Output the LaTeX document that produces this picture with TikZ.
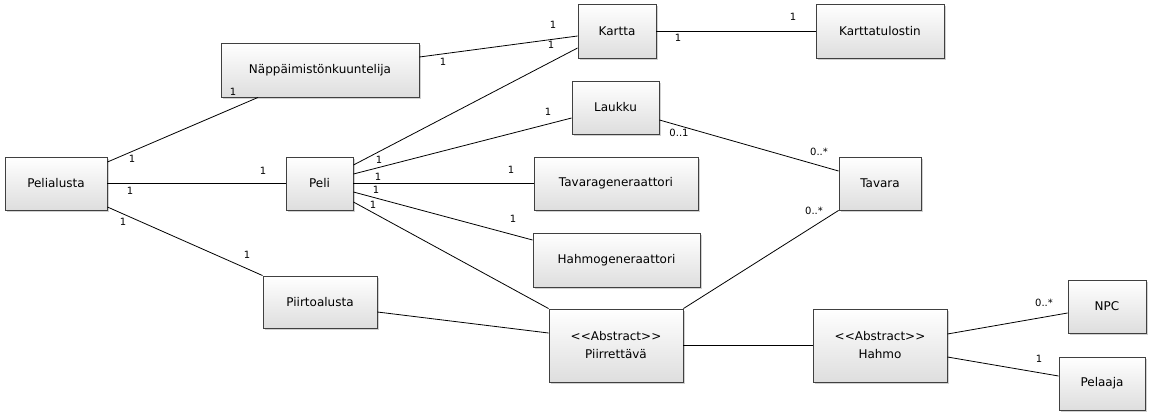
\documentclass[tikz,border=0pt]{standalone}
\usepackage{fontspec}
\setmainfont{DejaVu Sans}
\usetikzlibrary{calc,shadows}
\begin{document}
\begin{tikzpicture}[x=1pt,y=-1pt,
  cls/.style={draw=black!75, line width=0.9pt, rectangle, top color=white, bottom color=black!13,
    drop shadow={shadow xshift=1.5pt, shadow yshift=-1.5pt, fill=black, opacity=0.18},
    font=\fontsize{12}{18}\selectfont, align=center, inner sep=0pt},
  assoc/.style={draw=black, line width=0.8pt},
  mult/.style={font=\fontsize{10}{12}\selectfont, inner sep=0pt}]
\useasboundingbox (0,0) rectangle (1150,415);
\fill[white] (0,0) rectangle (1150,415);

\node[cls, minimum width=102, minimum height=53] (pelialusta) at (56,183.5) {Pelialusta};
\node[cls, minimum width=198, minimum height=54] (napp) at (320,70) {Näppäimistönkuuntelija};
\node[cls, minimum width=78, minimum height=54] (kartta) at (617,31) {Kartta};
\node[cls, minimum width=128, minimum height=54] (tulostin) at (880,31) {Karttatulostin};
\node[cls, minimum width=87, minimum height=53] (laukku) at (615.5,107.5) {Laukku};
\node[cls, minimum width=67, minimum height=53] (peli) at (319.5,183.5) {Peli};
\node[cls, minimum width=164, minimum height=53] (tavarag) at (616,183.5) {Tavarageneraattori};
\node[cls, minimum width=167, minimum height=54] (hahmog) at (616.5,260) {Hahmogeneraattori};
\node[cls, minimum width=82, minimum height=53] (tavara) at (880,183.5) {Tavara};
\node[cls, minimum width=114, minimum height=52] (piirtoalusta) at (320,302) {Piirtoalusta};
\node[cls, minimum width=134, minimum height=73] (piirrettava) at (616,345.5) {<\kern0pt<Abstract>\kern0pt>\\Piirrettävä};
\node[cls, minimum width=134, minimum height=73] (hahmo) at (880,345.5) {<\kern0pt<Abstract>\kern0pt>\\Hahmo};
\node[cls, minimum width=78, minimum height=53] (npc) at (1107,306.5) {NPC};
\node[cls, minimum width=86, minimum height=53] (pelaaja) at (1102,383.5) {Pelaaja};

% connectors
\draw[assoc] ($(pelialusta.east)+(0,-21.5)$) -- ($(napp.south)+(-62,0)$);
\draw[assoc] (pelialusta.east) -- (peli.west);
\draw[assoc] ($(pelialusta.east)+(0,23.5)$) -- (piirtoalusta.north west);
\draw[assoc] ($(napp.east)+(0,-13)$) -- ($(kartta.west)+(0,5)$);
\draw[assoc] ($(peli.east)+(0,-18.5)$) -- ($(kartta.west)+(0,17)$);
\draw[assoc] ($(peli.east)+(0,-9.5)$) -- ($(laukku.west)+(0,10.5)$);
\draw[assoc] (peli.east) -- (tavarag.west);
\draw[assoc] ($(peli.east)+(0,8.5)$) -- ($(hahmog.west)+(0,-20)$);
\draw[assoc] ($(peli.east)+(0,18.5)$) -- (piirrettava.north west);
\draw[assoc] ($(piirtoalusta.east)+(0,10)$) -- ($(piirrettava.west)+(0,-12.5)$);
\draw[assoc] (kartta.east) -- (tulostin.west);
\draw[assoc] ($(laukku.east)+(0,12.5)$) -- ($(tavara.west)+(0,-12.5)$);
\draw[assoc] (piirrettava.north east) -- (tavara.south west);
\draw[assoc] (piirrettava.east) -- (hahmo.west);
\draw[assoc] ($(hahmo.east)+(0,-11.5)$) -- ($(npc.west)+(0,6.5)$);
\draw[assoc] ($(hahmo.east)+(0,11.5)$) -- ($(pelaaja.west)+(0,-7.5)$);

% multiplicities
\node[mult] (m1) at (132,159) {1};
\node[mult] (m2) at (233,92) {1};
\node[mult] (m3) at (130,191) {1};
\node[mult] (m4) at (263,171) {1};
\node[mult] (m5) at (123,222) {1};
\node[mult] (m6) at (247,255) {1};
\node[mult] (m7) at (443,62) {1};
\node[mult] (m8) at (553,25) {1};
\node[mult] (m9) at (551,45) {1};
\node[mult] (m10) at (379,160) {1};
\node[mult] (m11) at (378,177) {1};
\node[mult] (m12) at (376,190) {1};
\node[mult] (m13) at (373,205) {1};
\node[mult] (m14) at (548,112) {1};
\node[mult] (m15) at (511,170) {1};
\node[mult] (m16) at (513,219) {1};
\node[mult] (m17) at (678,38) {1};
\node[mult] (m18) at (793,17) {1};
\node[mult] (m19) at (679,133) {0..1};
\node[mult] (m20) at (819,152) {0..*};
\node[mult] (m21) at (814,211) {0..*};
\node[mult] (m22) at (1044,303) {0..*};
\node[mult] (m23) at (1039,359) {1};
\end{tikzpicture}
\end{document}
